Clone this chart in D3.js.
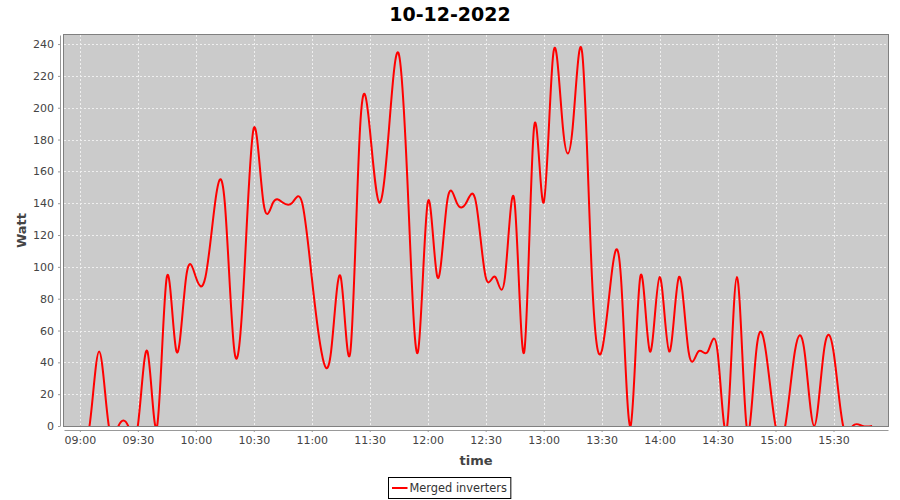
<!DOCTYPE html>
<html>
<head>
<meta charset="utf-8">
<script src="https://cdn.jsdelivr.net/npm/d3@7"></script>
<style>
  body { margin: 0; background: #fff; }
  svg text { font-family: "DejaVu Sans", sans-serif; }
</style>
</head>
<body>
<svg id="chart" width="900" height="500"></svg>
<script>
const chartTitle = "10-12-2022";
const seriesName = "Merged inverters";
const xLabel = "time";
const yLabel = "Watt";

// one reading every 5 minutes
const times = [
  "09:00","09:05","09:10","09:15","09:20","09:25","09:30","09:35","09:40","09:45","09:50","09:55",
  "10:00","10:05","10:10","10:15","10:20","10:25","10:30","10:35","10:40","10:45","10:50","10:55",
  "11:00","11:05","11:10","11:15","11:20","11:25","11:30","11:35","11:40","11:45","11:50","11:55",
  "12:00","12:05","12:10","12:15","12:20","12:25","12:30","12:35","12:40","12:45","12:50","12:55",
  "13:00","13:05","13:10","13:15","13:20","13:25","13:30","13:35","13:40","13:45","13:50","13:55",
  "14:00","14:05","14:10","14:15","14:20","14:25","14:30","14:35","14:40","14:45","14:50","14:55",
  "15:00","15:05","15:10","15:15","15:20","15:25","15:30","15:35","15:40","15:45","15:50"
];
const watts = [
  0, 0, 46.8, 0, 0, 0, 0, 46.8, 0, 93.6, 46.8, 93.6,
  93.6, 93.6, 140.4, 140.4, 46.8, 93.6, 187.2, 140.4, 140.4, 140.4, 140.4, 140.4,
  93.6, 46.8, 46.8, 93.6, 46.8, 187.2, 187.2, 140.4, 187.2, 234, 140.4, 46.8,
  140.4, 93.6, 140.4, 140.4, 140.4, 140.4, 93.6, 93.6, 93.6, 140.4, 46.8, 187.2,
  140.4, 234, 187.2, 187.2, 234, 93.6, 46.8, 93.6, 93.6, 0, 93.6, 46.8,
  93.6, 46.8, 93.6, 46.8, 46.8, 46.8, 46.8, 0, 93.6, 0, 46.8, 46.8,
  0, 0, 46.8, 46.8, 0, 46.8, 46.8, 0, 0, 0, 0
];
const yTicks = [0, 20, 40, 60, 80, 100, 120, 140, 160, 180, 200, 220, 240];

const plot = { left: 64, right: 888, top: 35, bottom: 426 };
const svg = d3.select("#chart");

const parse = d3.timeParse("%H:%M");
const data = times.map((t, i) => ({ t: parse(t), v: watts[i] }));

const ext = d3.extent(data, d => d.t);
const pad = (ext[1] - ext[0]) * 0.02;
const x = d3.scaleTime()
  .domain([new Date(+ext[0] - pad), new Date(+ext[1] + pad)])
  .range([plot.left, plot.right]);
const y = d3.scaleLinear()
  .domain([0, d3.max(watts) * 1.05])
  .range([plot.bottom, plot.top]);

const xTicks = x.ticks(d3.timeMinute.every(30));

// plot background
svg.append("rect")
  .attr("x", plot.left).attr("y", plot.top)
  .attr("width", plot.right - plot.left).attr("height", plot.bottom - plot.top)
  .attr("fill", "#cbcbcb");

// grid
const grid = svg.append("g").attr("stroke", "#efefef").attr("stroke-dasharray", "2,2").attr("stroke-width", 1);
grid.selectAll(".gy").data(yTicks).enter().append("line")
  .attr("x1", plot.left).attr("x2", plot.right)
  .attr("y1", d => Math.round(y(d)) + 0.5).attr("y2", d => Math.round(y(d)) + 0.5);
grid.selectAll(".gx").data(xTicks).enter().append("line")
  .attr("y1", plot.top).attr("y2", plot.bottom)
  .attr("x1", d => Math.round(x(d)) + 0.5).attr("x2", d => Math.round(x(d)) + 0.5);

// series
svg.append("clipPath").attr("id", "clip")
  .append("rect")
  .attr("x", plot.left).attr("y", plot.top)
  .attr("width", plot.right - plot.left).attr("height", plot.bottom - plot.top);

const line = d3.line()
  .x(d => x(d.t))
  .y(d => y(d.v))
  .curve(d3.curveNatural);

svg.append("path")
  .datum(data)
  .attr("clip-path", "url(#clip)")
  .attr("fill", "none")
  .attr("stroke", "#ff0000")
  .attr("stroke-width", 2)
  .attr("stroke-linejoin", "round")
  .attr("d", line);

// plot outline
svg.append("rect")
  .attr("x", plot.left - 0.5).attr("y", plot.top - 0.5)
  .attr("width", plot.right - plot.left + 1).attr("height", plot.bottom - plot.top + 1)
  .attr("fill", "none").attr("stroke", "#808080");

// axes
const xAxis = d3.axisBottom(x)
  .tickValues(xTicks)
  .tickFormat(d3.timeFormat("%H:%M"))
  .tickSize(2).tickSizeOuter(0).tickPadding(4);
const gx = svg.append("g")
  .attr("transform", `translate(0,${plot.bottom + 4})`)
  .call(xAxis);

const yAxis = d3.axisLeft(y)
  .tickValues(yTicks)
  .tickSize(2).tickSizeOuter(0).tickPadding(4);
const gy = svg.append("g")
  .attr("transform", `translate(${plot.left - 4},0)`)
  .call(yAxis);

[gx, gy].forEach(g => {
  g.attr("font-family", "DejaVu Sans").attr("font-size", 11);
  g.select(".domain").attr("stroke", "#999");
  g.selectAll(".tick line").attr("stroke", "#999");
  g.selectAll(".tick text").attr("fill", "#444");
});

// titles
svg.append("text")
  .attr("x", 450).attr("y", 21)
  .attr("text-anchor", "middle")
  .attr("font-size", 19).attr("font-weight", "bold")
  .attr("fill", "#000")
  .text(chartTitle);

svg.append("text")
  .attr("x", (plot.left + plot.right) / 2).attr("y", 465)
  .attr("text-anchor", "middle")
  .attr("font-size", 13).attr("font-weight", "bold")
  .attr("fill", "#444")
  .text(xLabel);

svg.append("text")
  .attr("transform", `translate(26,${(plot.top + plot.bottom) / 2}) rotate(-90)`)
  .attr("text-anchor", "middle")
  .attr("font-size", 13).attr("font-weight", "bold")
  .attr("fill", "#444")
  .text(yLabel);

// legend
const legend = svg.append("g");
const legendText = legend.append("text")
  .attr("font-size", 11.4).attr("fill", "#333")
  .text(seriesName);
const tw = legendText.node().getComputedTextLength();
const lw = tw + 25, lh = 21;
const lx = Math.round(449 - lw / 2) + 0.5, ly = 477.5;
legend.insert("rect", "text")
  .attr("x", lx).attr("y", ly).attr("width", lw).attr("height", lh)
  .attr("fill", "#fff").attr("stroke", "#000");
legend.append("line")
  .attr("x1", lx + 3.5).attr("x2", lx + 19)
  .attr("y1", ly + 10.5).attr("y2", ly + 10.5)
  .attr("stroke", "#ff0000").attr("stroke-width", 2);
legendText.attr("x", lx + 21).attr("y", ly + 14.5);
</script>
</body>
</html>
